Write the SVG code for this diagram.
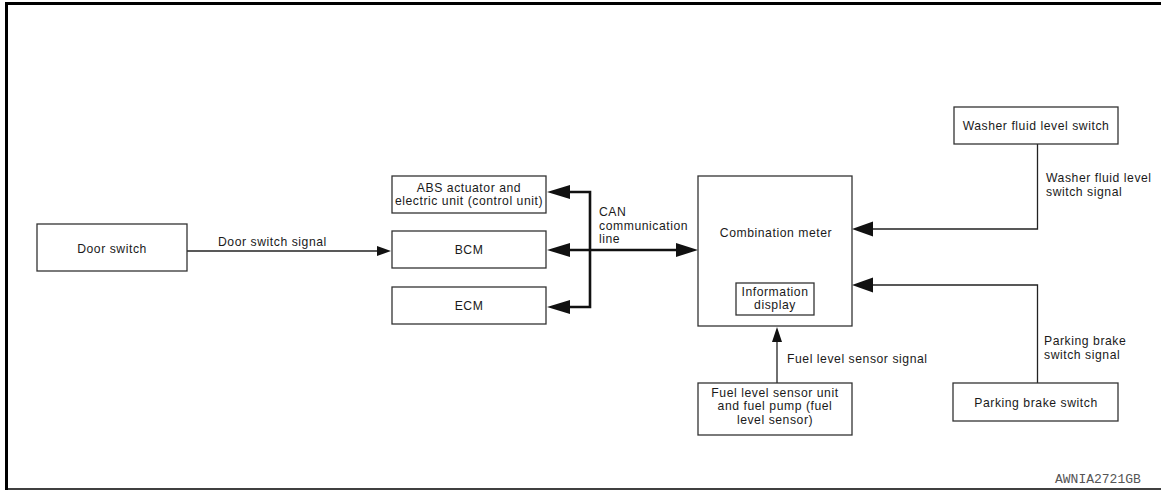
<svg xmlns="http://www.w3.org/2000/svg" width="1161" height="491" viewBox="0 0 1161 491">
<style>
.box{fill:#fff;stroke:#333;stroke-width:1.3}
.t{font-family:"Liberation Sans",Arial,sans-serif;font-size:12.2px;letter-spacing:0.55px;fill:#1a1a1a}
.c{text-anchor:middle}
.ln{fill:none;stroke:#222;stroke-width:1.3}
.bus{fill:none;stroke:#111;stroke-width:2.6}
.ah{fill:#111}
</style>
<rect width="1161" height="491" fill="#fff"/>
<g id="frame">
<line x1="6.5" y1="3.5" x2="1161" y2="3.5" stroke="#000" stroke-width="3"/>
<line x1="6.5" y1="2" x2="6.5" y2="490" stroke="#000" stroke-width="3"/>
<line x1="5" y1="489" x2="1161" y2="489" stroke="#000" stroke-width="1.5"/>
<text x="1055" y="483" font-family="'Liberation Mono',monospace" font-size="13" fill="#555">AWNIA2721GB</text>
</g>
<g id="connectors">
<line class="ln" x1="187" y1="251" x2="380" y2="251"/>
<polygon class="ah" points="391,251 377,246 377,256"/>
<text class="t" x="218" y="246">Door switch signal</text>
<polyline class="bus" points="568,192 590,192 590,307 568,307"/>
<line class="bus" x1="568" y1="250" x2="678" y2="250"/>
<polygon class="ah" points="547,192 570,185 570,199"/>
<polygon class="ah" points="547,250 570,243 570,257"/>
<polygon class="ah" points="547,307 570,300 570,314"/>
<polygon class="ah" points="698,250 676,243 676,257"/>
<text class="t" x="599" y="216">CAN</text>
<text class="t" x="599" y="229.5">communication</text>
<text class="t" x="599" y="243">line</text>
<polyline class="ln" points="1037.5,144 1037.5,229 870,229"/>
<polygon class="ah" points="852,229 873,221.5 873,236.5"/>
<text class="t" x="1046" y="182">Washer fluid level</text>
<text class="t" x="1046" y="195.5">switch signal</text>
<polyline class="ln" points="1037.5,383 1037.5,285 870,285"/>
<polygon class="ah" points="852,285 873,277.5 873,292.5"/>
<text class="t" x="1044" y="345">Parking brake</text>
<text class="t" x="1044" y="358.5">switch signal</text>
<line class="ln" x1="777" y1="383" x2="777" y2="340"/>
<polygon class="ah" points="777,327 772,342 782,342"/>
<text class="t" x="787" y="363">Fuel level sensor signal</text>
</g>
<g id="door-switch">
<rect class="box" x="37" y="224" width="150" height="47"/>
<text class="t c" x="112" y="253">Door switch</text>
</g>
<g id="abs">
<rect class="box" x="392" y="176" width="154" height="37"/>
<text class="t c" x="469" y="191.5">ABS actuator and</text>
<text class="t c" x="469" y="205">electric unit (control unit)</text>
</g>
<g id="bcm">
<rect class="box" x="392" y="231" width="154" height="37"/>
<text class="t c" x="469" y="254">BCM</text>
</g>
<g id="ecm">
<rect class="box" x="392" y="287" width="154" height="37"/>
<text class="t c" x="469" y="310">ECM</text>
</g>
<g id="combination-meter">
<rect class="box" x="698" y="176" width="154" height="150"/>
<text class="t c" x="776" y="237">Combination meter</text>
<rect class="box" x="736" y="283" width="78" height="32"/>
<text class="t c" x="775" y="295.5">Information</text>
<text class="t c" x="775" y="309">display</text>
</g>
<g id="washer-switch">
<rect class="box" x="954" y="107" width="164" height="37"/>
<text class="t c" x="1036" y="130">Washer fluid level switch</text>
</g>
<g id="parking-switch">
<rect class="box" x="953" y="383" width="165" height="38"/>
<text class="t c" x="1036" y="407">Parking brake switch</text>
</g>
<g id="fuel-sensor">
<rect class="box" x="698" y="383" width="154" height="52"/>
<text class="t c" x="775" y="396.5">Fuel level sensor unit</text>
<text class="t c" x="775" y="410">and fuel pump (fuel</text>
<text class="t c" x="775" y="423.5">level sensor)</text>
</g>
</svg>
